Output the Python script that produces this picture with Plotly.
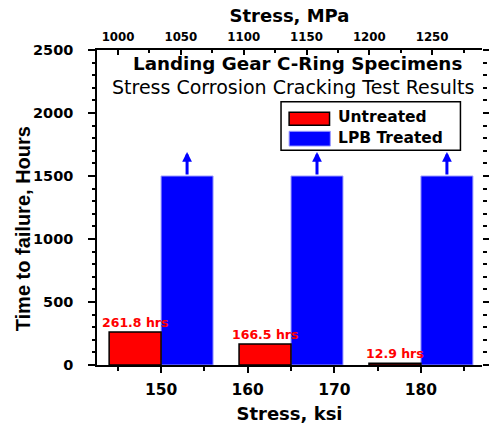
import plotly.graph_objects as go

# ---- data ----
stress_ksi = [150, 165, 180]
untreated_hrs = [261.8, 166.5, 12.9]
lpb_hrs = [1500, 1500, 1500]
runout_tip_hrs = [1690, 1690, 1690]
ksi_to_mpa = 6.895
bottom_ticks = [150, 160, 170, 180]
top_ticks = [1000, 1050, 1100, 1150, 1200, 1250]
y_ticks = [0, 500, 1000, 1500, 2000, 2500]
series_names = ["Untreated", "LPB Treated"]
title_main = "Landing Gear C-Ring Specimens"
title_sub = "Stress Corrosion Cracking Test Results"
y_title = "Time to failure, Hours"

WIDE = "DejaVu Sans, Verdana, sans-serif"
ARIAL = "Liberation Sans, Arial, sans-serif"
bar_w = 6.0
x_range = [142.6, 187.05]

fig = go.Figure()

fig.add_trace(go.Bar(
    name=series_names[1], x=stress_ksi, y=lpb_hrs, width=bar_w, offset=0,
    marker=dict(color="#0000FF", line=dict(color="#9C9CFF", width=1)),
    showlegend=False,
))
fig.add_trace(go.Bar(
    name=series_names[0], x=stress_ksi, y=untreated_hrs, width=bar_w, offset=-bar_w,
    marker=dict(color="#FF0000", line=dict(color="#000000", width=1.5)),
    showlegend=False,
))
# invisible companion trace so the MPa (top) and right axes are drawn
fig.add_trace(go.Scatter(
    x=[s * ksi_to_mpa for s in stress_ksi], y=lpb_hrs, xaxis="x2", yaxis="y2",
    mode="markers", marker=dict(opacity=0), hoverinfo="skip", showlegend=False,
))

annotations = []
# run-out arrows above LPB bars
for s, top, tip in zip(stress_ksi, lpb_hrs, runout_tip_hrs):
    xc = s + bar_w / 2
    annotations.append(dict(
        x=xc, y=tip, ax=xc, ay=top, xref="x", yref="y", axref="x", ayref="y",
        text="", showarrow=True, arrowhead=2, arrowsize=0.65, arrowwidth=3,
        arrowcolor="#0000FF", standoff=0, startstandoff=0,
    ))
# value labels above untreated bars
for s, v in zip(stress_ksi, untreated_hrs):
    annotations.append(dict(
        x=s - bar_w / 2, y=v, xref="x", yref="y", text=f"{v} hrs", showarrow=False,
        xanchor="center", yanchor="middle", yshift=9.5,
        font=dict(family=WIDE, size=12.5, color="#FF0000", weight="bold"),
    ))

annotations.append(dict(
    text=title_main, x=0.522, y=0.956, xref="paper", yref="paper",
    showarrow=False, xanchor="center", yanchor="middle",
    font=dict(family=WIDE, size=18.3, color="black", weight="bold"),
))
annotations.append(dict(
    text=title_sub, x=0.509, y=0.881, xref="paper", yref="paper",
    showarrow=False, xanchor="center", yanchor="middle",
    font=dict(family=WIDE, size=19, color="black"),
))
annotations.append(dict(
    text=y_title, x=-0.192, y=0.431, xref="paper", yref="paper", textangle=-90,
    showarrow=False, xanchor="center", yanchor="middle",
    font=dict(family=ARIAL, size=20, color="black", weight="bold"),
))

# legend (drawn box)
shapes = [
    dict(type="rect", xref="paper", yref="paper", x0=0.478, x1=0.944, y0=0.682, y1=0.836,
         line=dict(color="black", width=1.5), fillcolor="white", layer="above"),
    dict(type="rect", xref="paper", yref="paper", x0=0.499, x1=0.604, y0=0.761, y1=0.802,
         line=dict(color="black", width=1.5), fillcolor="#FF0000", layer="above"),
    dict(type="rect", xref="paper", yref="paper", x0=0.499, x1=0.606, y0=0.695, y1=0.742,
         line=dict(color="#9C9CFF", width=1), fillcolor="#0000FF", layer="above"),
]
for name, yy in zip(series_names, [0.787, 0.72]):
    annotations.append(dict(
        text=name, x=0.621, y=yy, xref="paper", yref="paper", showarrow=False,
        xanchor="left", yanchor="middle",
        font=dict(family=WIDE, size=15.5, color="black", weight="bold"),
    ))

fig.update_layout(
    width=493, height=426,
    margin=dict(l=97, r=5, t=50, b=58),
    paper_bgcolor="white", plot_bgcolor="white",
    barmode="overlay", showlegend=False,
    font=dict(family=WIDE, color="black"),
    annotations=annotations, shapes=shapes,
    xaxis=dict(
        range=x_range, tickvals=bottom_ticks, ticks="outside", ticklen=6, tickwidth=1.5,
        tickcolor="black", showline=True, linecolor="black", linewidth=1.5,
        showgrid=False, zeroline=False, ticklabelstandoff=4,
        tickfont=dict(family=WIDE, size=15.5, weight="bold"),
        minor=dict(dtick=5, tick0=145, ticks="outside", ticklen=4, tickwidth=1.5, tickcolor="black"),
        title=dict(text="Stress, ksi", font=dict(family=WIDE, size=18, weight="bold"), standoff=9),
    ),
    xaxis2=dict(
        overlaying="x", side="top", anchor="y",
        range=[x_range[0] * ksi_to_mpa, x_range[1] * ksi_to_mpa],
        tickvals=top_ticks, ticks="inside", ticklen=5, tickwidth=1.5, tickcolor="black",
        showline=True, linecolor="black", linewidth=1.5, showgrid=False, zeroline=False,
        tickfont=dict(family=WIDE, size=11.8, weight="bold"), ticklabelstandoff=3,
        minor=dict(dtick=25, tick0=1000, ticks="inside", ticklen=3, tickwidth=1.5, tickcolor="black"),
        title=dict(text="Stress, MPa", font=dict(family=WIDE, size=18, weight="bold"), standoff=2),
    ),
    yaxis=dict(
        range=[0, 2500], tickvals=y_ticks, ticks="outside", ticklen=7, tickwidth=1.5,
        tickcolor="black", showline=True, linecolor="black", linewidth=1.5,
        showgrid=False, zeroline=False, ticklabelstandoff=12,
        tickfont=dict(family=WIDE, size=14.5, weight="bold"),
        minor=dict(dtick=100, ticks="outside", ticklen=3.5, tickwidth=1.5, tickcolor="black"),
    ),
    yaxis2=dict(
        overlaying="y", side="right", anchor="x", range=[0, 2500], tickvals=y_ticks,
        ticks="outside", ticklen=6, tickwidth=1.5, tickcolor="black",
        showline=False, showgrid=False, zeroline=False, showticklabels=False,
        minor=dict(dtick=100, ticks="outside", ticklen=4, tickwidth=1.5, tickcolor="black"),
    ),
)

fig.write_html(
    "out.html",
    config={"displayModeBar": False},
    post_script="document.body.style.margin='0';document.body.style.overflow='hidden';",
)
